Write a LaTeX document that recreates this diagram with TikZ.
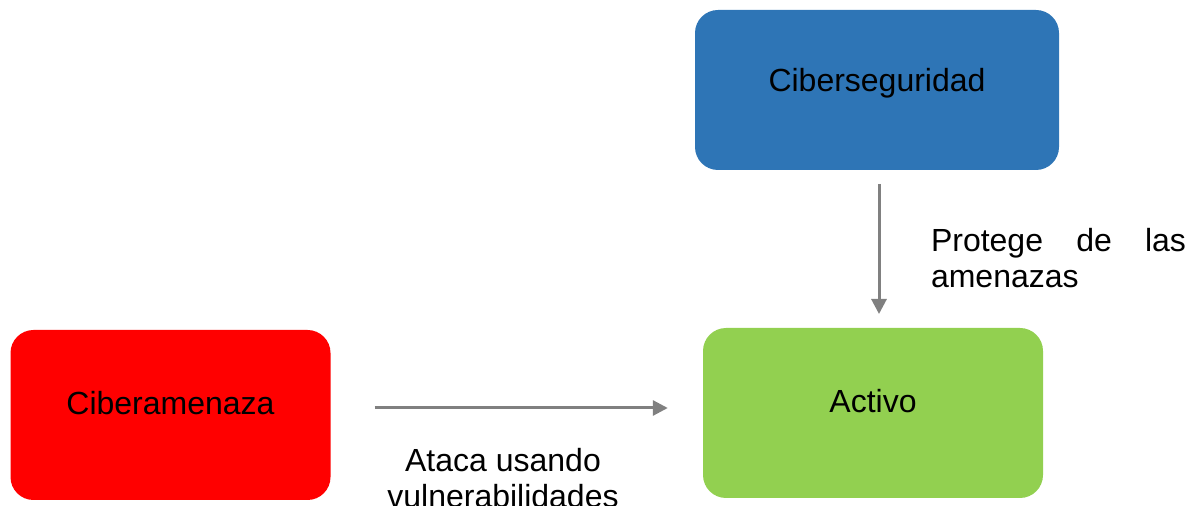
\documentclass[tikz,border=0pt]{standalone}
\usepackage{fontspec}
\setmainfont{Liberation Sans}
\usetikzlibrary{arrows.meta}
\definecolor{cblue}{HTML}{2E75B6}
\definecolor{cgreen}{HTML}{92D050}
\definecolor{cred}{HTML}{FF0000}
\definecolor{cgray}{HTML}{808080}
\begin{document}
\begin{tikzpicture}[x=1pt,y=1pt,
  box/.style={rounded corners=23pt, inner sep=0pt, draw=none},
  lbl/.style={font=\fontsize{32}{36.8}\selectfont, text=black, inner sep=0pt},
  conn/.style={draw=cgray, line width=3pt, -{Triangle[length=15pt,width=15pt]}}
]
\useasboundingbox (0,0) rectangle (1189,506);
% boxes
\node[box, fill=cblue, minimum width=364pt, minimum height=160pt] (seg) at (877,416) {};
\node[box, fill=cgreen, minimum width=340pt, minimum height=170pt] (act) at (873,93) {};
\node[box, fill=cred, minimum width=320pt, minimum height=170pt] (ame) at (170.5,91) {};
% texts in boxes
\node[lbl] (tseg) at (877,423) {Ciberseguridad};
\node[lbl] (tact) at (873,105) {Activo};
\node[lbl] (tame) at (170.5,103) {Ciberamenaza};
% connectors
\draw[conn, shorten <=44pt, shorten >=35pt] ([yshift=7pt]ame.east) -- ([yshift=5pt]act.west);
\coordinate (v1) at (879,322);
\coordinate (v2) at (879,192);
\draw[conn] (v1) -- (v2);
% labels
\node[lbl, text width=255pt, align=left] (lprot) at (1058.5,248) {Protege\hfill de\hfill las\\amenazas};
\node[lbl, align=center] (lata) at (503,28) {Ataca usando\\vulnerabilidades};
\end{tikzpicture}
\end{document}
